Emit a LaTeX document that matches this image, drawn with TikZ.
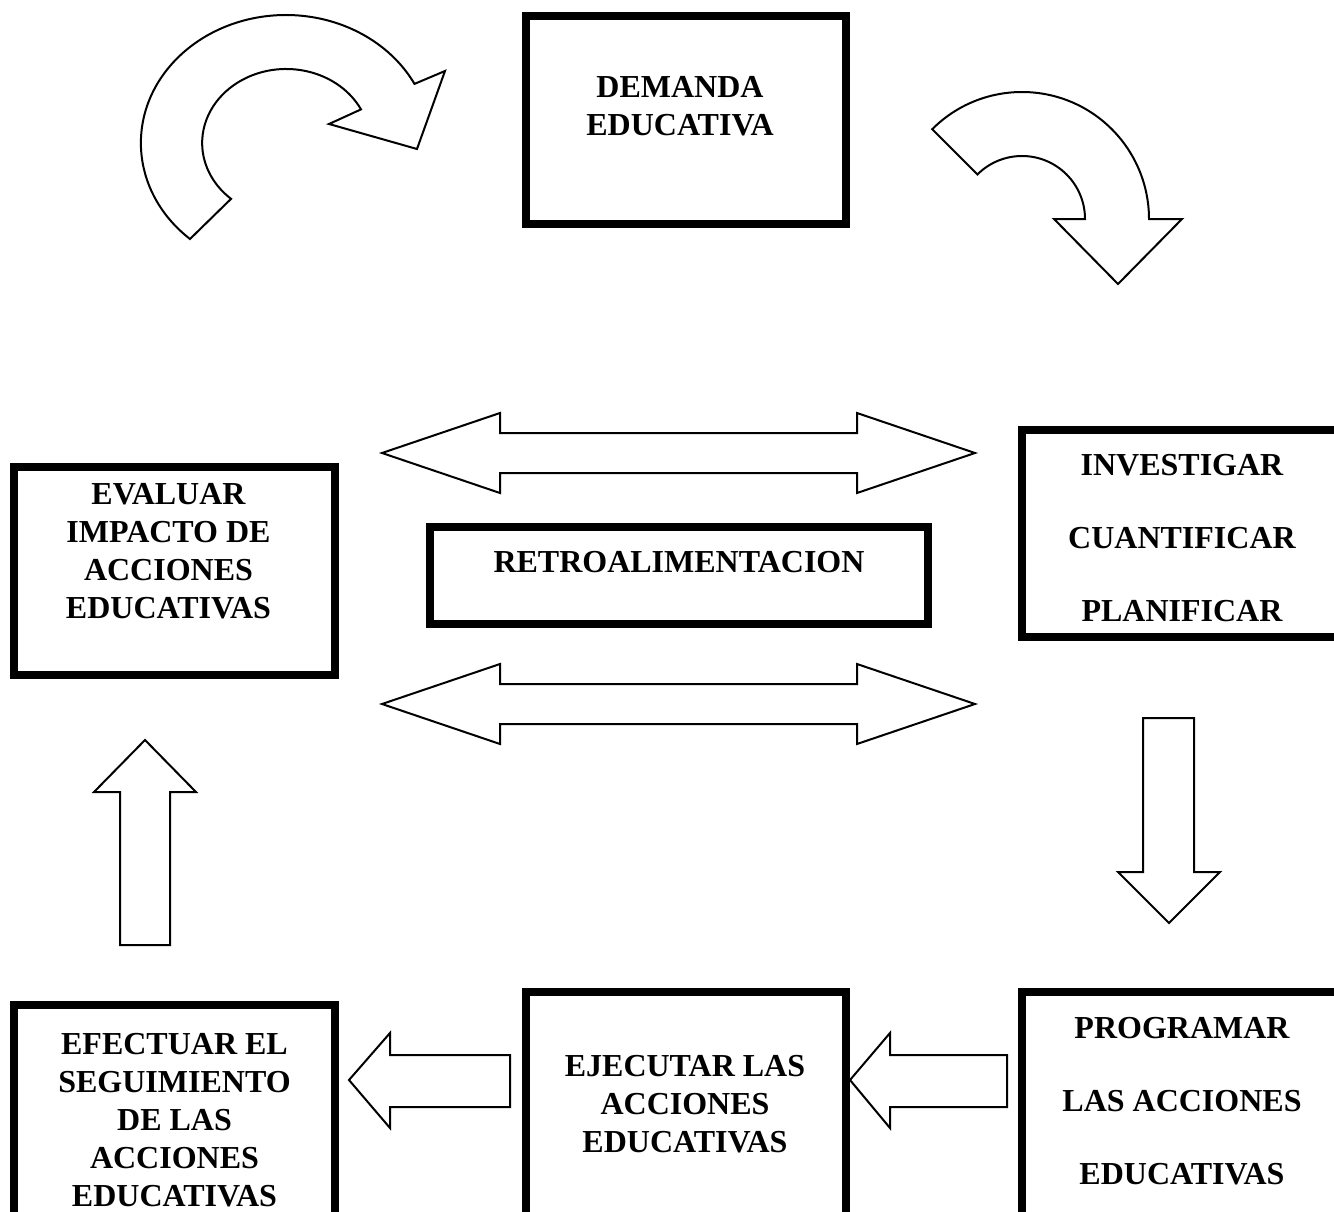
\documentclass[tikz,border=0pt]{standalone}
\usepackage{fontspec}
\setmainfont{Liberation Serif}
\usetikzlibrary{positioning}

\begin{document}
\begin{tikzpicture}[
  x=1pt, y=-1pt,
  box/.style={draw, line width=8pt, inner sep=0pt},
  txt/.style={align=center, inner sep=0pt,
    font=\fontsize{32}{38}\selectfont\bfseries},
  widetxt/.style={txt, font=\fontsize{32}{73}\selectfont\bfseries},
  blockarrow/.style={draw, line width=2pt, line join=miter, fill=white}
]
\useasboundingbox (0,0) rectangle (1334,1212);

% boxes
\node[box, minimum width=320pt, minimum height=208pt] (demanda) at (686,120) {};
\node[box, minimum width=320pt, minimum height=207pt] (investigar) at (1182,533.5) {};
\node[box, minimum width=321pt, minimum height=208pt] (evaluar) at (174.5,571) {};
\node[box, minimum width=498pt, minimum height=97pt] (retro) at (679,575.5) {};
\node[box, minimum width=321pt, minimum height=235pt] (efectuar) at (174.5,1122.5) {};
\node[box, minimum width=320pt, minimum height=248pt] (ejecutar) at (686,1116) {};
\node[box, minimum width=320pt, minimum height=248pt] (programar) at (1182,1116) {};

% texts
\node[txt, anchor=north, below=64pt of demanda.north, xshift=-6pt] (demanda-t)
  {DEMANDA\\EDUCATIVA};
\node[widetxt, anchor=north, below=28pt of investigar.north] (investigar-t)
  {INVESTIGAR\\CUANTIFICAR\\PLANIFICAR};
\node[txt, anchor=north, below=20pt of evaluar.north, xshift=-6pt] (evaluar-t)
  {EVALUAR\\IMPACTO DE\\ACCIONES\\EDUCATIVAS};
\node[txt, anchor=north, below=28pt of retro.north] (retro-t)
  {RETROALIMENTACION};
\node[txt, anchor=north, below=32pt of efectuar.north] (efectuar-t)
  {EFECTUAR EL\\SEGUIMIENTO\\DE LAS\\ACCIONES\\EDUCATIVAS};
\node[txt, anchor=north, below=67pt of ejecutar.north, xshift=-1pt] (ejecutar-t)
  {EJECUTAR LAS\\ACCIONES\\EDUCATIVAS};
\node[widetxt, anchor=north, below=29pt of programar.north] (programar-t)
  {PROGRAMAR\\LAS ACCIONES\\EDUCATIVAS};

% curved arrows at the top
\draw[blockarrow] (190,239) arc[start angle=131.4, end angle=332.5, x radius=145, y radius=128]
  -- (445,71) -- (417,149) -- (329,124) -- (361,109.4)
  arc[start angle=333, end angle=131, x radius=84, y radius=74] -- cycle;
\draw[blockarrow] (932.2,129.2) arc[start angle=225, end angle=360, radius=127]
  -- (1182,219) -- (1118,284) -- (1054,219) -- (1085,219)
  arc[start angle=0, end angle=-135, radius=63] -- cycle;

% double arrows round the feedback box
\draw[blockarrow] (382,453) -- (500,413) -- (500,433) -- (857,433) -- (857,413)
  -- (975,453) -- (857,493) -- (857,473) -- (500,473) -- (500,493) -- cycle;
\draw[blockarrow] (382,704) -- (500,664) -- (500,684) -- (857,684) -- (857,664)
  -- (975,704) -- (857,744) -- (857,724) -- (500,724) -- (500,744) -- cycle;

% straight arrows
\draw[blockarrow] (1143,718) -- (1194,718) -- (1194,872) -- (1220,872)
  -- (1169,923) -- (1118,872) -- (1143,872) -- cycle;
\draw[blockarrow] (145,740) -- (196,792) -- (170,792) -- (170,945)
  -- (120,945) -- (120,792) -- (94,792) -- cycle;
\draw[blockarrow] (349,1080) -- (390,1033) -- (390,1055) -- (510,1055)
  -- (510,1107) -- (390,1107) -- (390,1128) -- cycle;
\draw[blockarrow] (850,1080) -- (890,1033) -- (890,1055) -- (1007,1055)
  -- (1007,1107) -- (890,1107) -- (890,1128) -- cycle;
\end{tikzpicture}
\end{document}
